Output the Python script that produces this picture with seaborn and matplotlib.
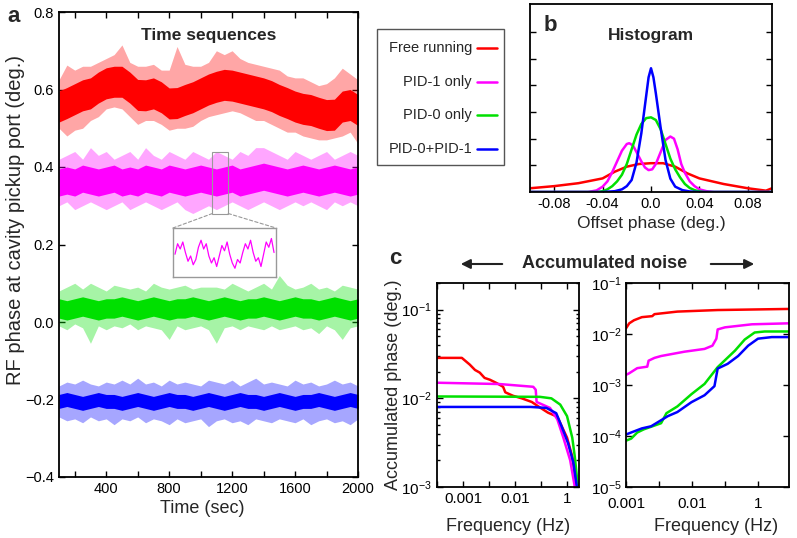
import numpy as np
import matplotlib
matplotlib.use('Agg')
import matplotlib.pyplot as plt
import seaborn as sns
from matplotlib.patches import Rectangle, ConnectionPatch, FancyArrowPatch
from matplotlib.lines import Line2D
from matplotlib.ticker import FixedLocator, NullLocator, LogLocator

# ---------------- data ----------------
t_sec = list(range(100, 2001, 50))

red_mid = [0.556,0.565,0.575,0.585,0.590,0.605,0.616,0.620,0.620,0.605,0.586,0.585,0.590,0.580,0.564,0.565,0.573,0.580,0.590,0.600,
           0.607,0.612,0.610,0.605,0.600,0.595,0.590,0.583,0.573,0.565,0.556,0.550,0.547,0.540,0.534,0.535,0.556,0.560,0.547]
red_hi = [0.625,0.663,0.650,0.660,0.660,0.670,0.680,0.690,0.715,0.670,0.660,0.660,0.665,0.650,0.650,0.711,0.665,0.660,0.660,0.670,
          0.700,0.690,0.700,0.680,0.670,0.665,0.660,0.655,0.650,0.635,0.630,0.630,0.620,0.610,0.615,0.630,0.655,0.640,0.625]
red_lo = [0.500,0.480,0.495,0.500,0.520,0.530,0.550,0.555,0.550,0.530,0.510,0.520,0.520,0.510,0.495,0.500,0.500,0.505,0.520,0.530,
          0.535,0.540,0.545,0.540,0.530,0.520,0.520,0.510,0.500,0.490,0.490,0.480,0.475,0.470,0.470,0.475,0.480,0.490,0.460]

mag_mid = [0.360,0.365,0.360,0.370,0.365,0.360,0.365,0.370,0.360,0.365,0.360,0.370,0.365,0.360,0.370,0.365,0.360,0.365,0.370,0.365,
           0.360,0.365,0.370,0.360,0.365,0.370,0.375,0.370,0.365,0.360,0.365,0.370,0.365,0.360,0.365,0.370,0.365,0.360,0.365]
mag_hi = [0.42,0.43,0.44,0.42,0.45,0.43,0.44,0.42,0.43,0.44,0.42,0.45,0.43,0.42,0.44,0.43,0.42,0.44,0.43,0.42,
          0.44,0.43,0.42,0.44,0.43,0.45,0.45,0.44,0.43,0.42,0.44,0.43,0.42,0.43,0.44,0.42,0.43,0.44,0.43]
mag_lo = [0.30,0.31,0.29,0.30,0.31,0.30,0.29,0.30,0.31,0.29,0.30,0.31,0.30,0.29,0.30,0.31,0.29,0.28,0.29,0.30,
          0.29,0.30,0.31,0.30,0.29,0.30,0.31,0.30,0.29,0.30,0.31,0.30,0.31,0.30,0.29,0.31,0.30,0.31,0.30]

grn_mid = [0.035,0.030,0.035,0.040,0.035,0.030,0.035,0.035,0.040,0.035,0.030,0.035,0.040,0.035,0.030,0.035,0.035,0.040,0.035,0.030,
           0.035,0.040,0.035,0.030,0.035,0.035,0.040,0.035,0.030,0.035,0.040,0.035,0.035,0.030,0.035,0.040,0.035,0.030,0.035]
grn_hi = [0.080,0.090,0.100,0.085,0.100,0.090,0.080,0.095,0.090,0.085,0.090,0.080,0.100,0.090,0.085,0.090,0.095,0.085,0.090,0.090,
          0.090,0.085,0.100,0.090,0.080,0.090,0.100,0.085,0.120,0.095,0.085,0.090,0.100,0.085,0.090,0.080,0.095,0.090,0.085]
grn_lo = [-0.010,-0.020,-0.005,-0.015,-0.055,-0.010,-0.020,-0.010,-0.015,-0.005,-0.020,-0.010,-0.015,-0.020,-0.045,-0.010,-0.020,-0.015,-0.010,-0.020,
          -0.055,-0.015,-0.010,-0.020,-0.010,-0.015,-0.020,-0.010,-0.020,-0.015,-0.010,-0.020,-0.015,-0.030,-0.010,-0.020,-0.045,-0.015,-0.010]

blu_mid = [-0.205,-0.200,-0.205,-0.210,-0.205,-0.200,-0.205,-0.205,-0.210,-0.205,-0.200,-0.205,-0.210,-0.205,-0.200,-0.205,-0.205,-0.210,-0.205,-0.200,
           -0.205,-0.210,-0.205,-0.200,-0.205,-0.205,-0.210,-0.205,-0.200,-0.205,-0.210,-0.205,-0.205,-0.200,-0.205,-0.210,-0.205,-0.200,-0.205]
blu_hi = [-0.165,-0.155,-0.160,-0.150,-0.160,-0.165,-0.155,-0.160,-0.150,-0.160,-0.145,-0.160,-0.155,-0.165,-0.150,-0.160,-0.155,-0.160,-0.165,-0.150,
          -0.155,-0.160,-0.150,-0.165,-0.155,-0.145,-0.160,-0.155,-0.160,-0.165,-0.150,-0.160,-0.155,-0.165,-0.160,-0.150,-0.160,-0.155,-0.165]
blu_lo = [-0.245,-0.255,-0.250,-0.260,-0.245,-0.255,-0.250,-0.265,-0.250,-0.255,-0.245,-0.260,-0.250,-0.255,-0.265,-0.250,-0.260,-0.255,-0.250,-0.270,
          -0.255,-0.250,-0.260,-0.255,-0.265,-0.250,-0.255,-0.260,-0.250,-0.255,-0.260,-0.250,-0.265,-0.255,-0.250,-0.260,-0.255,-0.265,-0.250]

# zoomed piece of the PID-1 trace shown in the inset
ins_val = [0.365,0.395,0.380,0.400,0.370,0.345,0.360,0.335,0.350,0.385,0.405,0.380,0.395,0.360,0.340,0.355,0.330,0.360,0.390,0.375,
           0.400,0.365,0.340,0.325,0.350,0.340,0.370,0.395,0.380,0.405,0.370,0.345,0.355,0.330,0.365,0.400,0.385,0.410,0.370]

# histogram (offset phase in deg, counts in arbitrary units)
h_red_x = [-0.100,-0.080,-0.060,-0.040,-0.030,-0.020,-0.010,0.000,0.010,0.020,0.030,0.040,0.060,0.080,0.095,0.100]
h_red_y = [0.14,0.22,0.33,0.51,0.76,0.95,1.05,1.08,1.08,0.95,0.70,0.51,0.30,0.14,0.05,0.14]
h_mag_x = [-0.100,-0.052,-0.045,-0.040,-0.036,-0.032,-0.028,-0.024,-0.020,-0.018,-0.015,-0.012,-0.008,-0.005,-0.002,0.001,0.004,
           0.008,0.012,0.016,0.019,0.022,0.025,0.028,0.032,0.036,0.040,0.046,0.052,0.100]
h_mag_y = [0.0,0.0,0.06,0.20,0.40,0.75,1.15,1.55,1.80,1.83,1.75,1.50,1.15,0.92,0.82,0.85,1.05,
           1.50,1.95,2.08,2.00,1.60,1.05,0.72,0.40,0.22,0.10,0.03,0.0,0.0]
h_grn_x = [-0.100,-0.044,-0.040,-0.036,-0.032,-0.028,-0.024,-0.020,-0.016,-0.012,-0.008,-0.004,0.000,0.004,0.008,0.012,0.016,
           0.020,0.024,0.028,0.032,0.036,0.040,0.044,0.100]
h_grn_y = [0.0,0.0,0.03,0.10,0.22,0.40,0.65,1.05,1.60,2.15,2.55,2.77,2.80,2.70,2.35,1.80,1.25,
           0.85,0.55,0.30,0.15,0.07,0.02,0.0,0.0]
h_blu_x = [-0.100,-0.040,-0.030,-0.024,-0.020,-0.016,-0.012,-0.008,-0.004,-0.002,0.000,0.002,0.004,0.008,0.012,0.016,0.020,
           0.026,0.032,0.040,0.100]
h_blu_y = [0.0,0.0,0.03,0.10,0.22,0.45,1.10,2.20,3.60,4.30,4.64,4.30,3.70,2.40,1.20,0.50,0.20,
           0.07,0.02,0.0,0.0]

# accumulated noise, integrated from f to the top (left) and from the bottom to f (right)
cl_red_f = [3.2e-4,9.5e-4,1.35e-3,1.7e-3,2.1e-3,2.6e-3,3.3e-3,4.5e-3,5.9e-3,6.5e-3,9.1e-3,0.0135,0.021,0.030,0.043,0.065,0.100,0.126,0.155,0.165]
cl_red_v = [0.0286,0.0286,0.024,0.0209,0.0195,0.017,0.0162,0.0148,0.0135,0.0117,0.0107,0.0100,0.0091,0.0079,0.0069,0.0062,0.0036,0.0022,0.0010,0.0006]
cl_mag_f = [3.2e-4,0.005,0.0224,0.025,0.026,0.047,0.065,0.085,0.115,0.141,0.148]
cl_mag_v = [0.0150,0.0145,0.0135,0.0125,0.0091,0.0078,0.0058,0.0036,0.0020,0.0010,0.0006]
cl_grn_f = [3.2e-4,0.030,0.050,0.074,0.100,0.126,0.141,0.162,0.170]
cl_grn_v = [0.0105,0.0104,0.0100,0.0085,0.0063,0.0036,0.0022,0.0010,0.0006]
cl_blu_f = [3.2e-4,0.020,0.040,0.062,0.079,0.105,0.132,0.155,0.165]
cl_blu_v = [0.0080,0.0080,0.0078,0.0068,0.0048,0.0031,0.0019,0.0010,0.0006]

cr_red_f = [0.001,0.00112,0.00132,0.00174,0.0025,0.0027,0.006,0.0245,0.295]
cr_red_v = [0.0129,0.0162,0.0186,0.0214,0.0224,0.0245,0.0275,0.0295,0.0310]
cr_mag_f = [0.001,0.00112,0.00148,0.0021,0.0022,0.0027,0.0034,0.0077,0.0155,0.0204,0.0234,0.0245,0.0316,0.081,0.295]
cr_mag_v = [0.00158,0.0017,0.00214,0.00229,0.0030,0.0034,0.0037,0.0045,0.0051,0.0059,0.0081,0.0123,0.0135,0.0155,0.0162]
cr_grn_f = [0.001,0.0012,0.00148,0.00186,0.0034,0.0041,0.006,0.0098,0.0155,0.0245,0.0447,0.063,0.089,0.126,0.295]
cr_grn_v = [8.1e-5,8.9e-5,1.17e-4,1.35e-4,1.78e-4,2.8e-4,3.8e-4,6.6e-4,1.05e-3,2.24e-3,4.7e-3,7.8e-3,0.0107,0.0112,0.0112]
cr_blu_f = [0.001,0.00132,0.00174,0.0024,0.0043,0.006,0.0098,0.0155,0.0219,0.0245,0.0347,0.050,0.071,0.100,0.162,0.295]
cr_blu_v = [1.07e-4,1.23e-4,1.41e-4,1.55e-4,2.45e-4,2.95e-4,4.6e-4,6.3e-4,9.5e-4,2.1e-3,2.6e-3,3.7e-3,5.9e-3,8.1e-3,8.7e-3,8.7e-3]

labels = ['Free running', 'PID-1 only', 'PID-0 only', 'PID-0+PID-1']
colors = ['#ff0000', '#ff00ff', '#00e000', '#0000ff']

hist_ticks = [-0.08, -0.04, 0.0, 0.04, 0.08]
hist_ticklabels = ['-0.08', '-0.04', '0.0', '0.04', '0.08']
cl_ticks = [10**-3.5, 1e-3, 10**-2.5, 1e-2, 10**-1.5, 1e-1]
cl_ticklabels = ['', '0.001', '', '0.01', '', '1']
cr_ticks = [1e-3, 10**-2.5, 1e-2, 10**-1.5, 1e-1]
cr_ticklabels = ['0.001', '', '0.01', '', '1']

# ---------------- style ----------------
sns.set_style('ticks')
plt.rcParams['font.family'] = ['Liberation Sans', 'DejaVu Sans']
plt.rcParams['mathtext.fontset'] = 'custom'
plt.rcParams['mathtext.rm'] = 'Liberation Sans'
plt.rcParams['mathtext.default'] = 'regular'
plt.rcParams['axes.linewidth'] = 1.3
plt.rcParams['axes.edgecolor'] = 'black'

W, H = 797, 538
fig = plt.figure(figsize=(W / 100, H / 100), dpi=100)


def rect(x0, y0, x1, y1):
    # pixel box (top-left origin) -> figure fraction
    return [x0 / W, 1 - y1 / H, (x1 - x0) / W, (y1 - y0) / H]


def tick_style(ax, **kw):
    ax.tick_params(which='both', direction='in', width=1, length=4, colors='black', **kw)


# ---------------- panel a ----------------
ax = fig.add_axes(rect(59, 12, 358, 477))
traces = [(red_mid, red_hi, red_lo, 0.040), (mag_mid, mag_hi, mag_lo, 0.035),
          (grn_mid, grn_hi, grn_lo, 0.025), (blu_mid, blu_hi, blu_lo, 0.018)]
for (mid, hi, lo, w), col in zip(traces, colors):
    mid = np.array(mid)
    ax.fill_between(t_sec, lo, hi, color=col, alpha=0.35, lw=0)
    ax.fill_between(t_sec, mid - w, mid + w, color=col, lw=0)
ax.set_xlim(100, 2000)
ax.set_ylim(-0.4, 0.8)
ax.set_xticks([400, 800, 1200, 1600, 2000])
ax.set_xticks([200, 600, 1000, 1400, 1800], minor=True)
ax.set_yticks([-0.4, -0.2, 0.0, 0.2, 0.4, 0.6, 0.8])
tick_style(ax, top=True, right=True, labelsize=10.5)
ax.set_xlabel('Time (sec)', fontsize=13)
ax.xaxis.set_label_coords(0.48, -0.05)
ax.set_ylabel('RF phase at cavity pickup port (deg.)', fontsize=14.5)
ax.yaxis.set_label_coords(-0.113, 0.553)
ax.text(0.5, 0.95, 'Time sequences', transform=ax.transAxes, ha='center', va='center',
        fontsize=12.5, fontweight='bold')
ax.add_patch(Rectangle((1075, 0.28), 100, 0.16, fill=False, ec='#999999', lw=0.8))

axi = fig.add_axes(rect(173, 228, 276, 277))
ins_t = np.linspace(1075, 1175, len(ins_val))
sns.lineplot(x=ins_t, y=ins_val, ax=axi, color=colors[1], lw=0.9, sort=False, estimator=None)
axi.set_xlim(1073, 1177)
axi.set_ylim(0.30, 0.44)
axi.set_xticks([])
axi.set_yticks([])
axi.set_xlabel('')
axi.set_ylabel('')
for s in axi.spines.values():
    s.set_color('#999999')
    s.set_linewidth(1)
for xa, xb in [((1075, 0.28), (0, 1)), ((1175, 0.28), (1, 1))]:
    con = ConnectionPatch(xyA=xa, coordsA=ax.transData, xyB=xb, coordsB=axi.transAxes,
                          color='#999999', lw=0.8, ls=(0, (3, 2)))
    fig.add_artist(con)

fig.text(14 / W, 1 - 17 / H, 'a', fontsize=16, fontweight='bold', ha='center', va='center')

# ---------------- panel b ----------------
axb = fig.add_axes(rect(530, 4, 772, 192))
for hx, hy, col in zip([h_red_x, h_mag_x, h_grn_x, h_blu_x], [h_red_y, h_mag_y, h_grn_y, h_blu_y], colors):
    sns.lineplot(x=hx, y=hy, ax=axb, color=col, lw=1.8, sort=False, estimator=None)
axb.set_xlim(-0.1, 0.1)
axb.set_ylim(0, 7.05)
axb.set_xticks(hist_ticks)
axb.set_xticklabels(hist_ticklabels)
axb.set_yticks([1, 2, 3, 4, 5, 6])
axb.set_yticklabels([])
tick_style(axb, right=True, top=False, labelsize=10.5)
axb.set_xlabel('Offset phase (deg.)', fontsize=12.5)
axb.set_ylabel('')
axb.text(0.5, 0.835, 'Histogram', transform=axb.transAxes, ha='center', va='center',
         fontsize=12.5, fontweight='bold')
axb.text(0.085, 0.885, 'b', transform=axb.transAxes, ha='center', va='center',
         fontsize=16, fontweight='bold')

# legend box, text right-aligned with the line sample after it
fig.add_artist(Rectangle((377 / W, 1 - 165 / H), 127 / W, 136 / H, transform=fig.transFigure,
                         fill=False, ec='#555555', lw=1))
for yy, lab, col in zip([48, 82, 115, 149], labels, colors):
    fig.text(472 / W, 1 - yy / H, lab, ha='right', va='center', fontsize=10.5)
    fig.add_artist(Line2D([477 / W, 497 / W], [1 - yy / H, 1 - yy / H], transform=fig.transFigure,
                          color=col, lw=1.8))

# ---------------- panel c ----------------
axl = fig.add_axes(rect(437, 283, 579, 487))
axr = fig.add_axes(rect(626, 283, 789, 487))
for f, v, col in zip([cl_red_f, cl_mag_f, cl_grn_f, cl_blu_f], [cl_red_v, cl_mag_v, cl_grn_v, cl_blu_v], colors):
    sns.lineplot(x=f, y=v, ax=axl, color=col, lw=1.8, sort=False, estimator=None)
for f, v, col in zip([cr_red_f, cr_mag_f, cr_grn_f, cr_blu_f], [cr_red_v, cr_mag_v, cr_grn_v, cr_blu_v], colors):
    sns.lineplot(x=f, y=v, ax=axr, color=col, lw=1.8, sort=False, estimator=None)

axl.set_xscale('log')
axl.set_yscale('log')
axl.set_xlim(10**-3.5, 10**-0.77)
axl.set_ylim(1e-3, 0.2)
axl.xaxis.set_major_locator(FixedLocator(cl_ticks))
axl.set_xticklabels(cl_ticklabels)
axl.xaxis.set_minor_locator(NullLocator())
axl.yaxis.set_major_locator(LogLocator(base=10, numticks=10))

axr.set_xscale('log')
axr.set_yscale('log')
axr.set_xlim(1e-3, 10**-0.53)
axr.set_ylim(1e-5, 1e-1)
axr.xaxis.set_major_locator(FixedLocator(cr_ticks))
axr.set_xticklabels(cr_ticklabels)
axr.xaxis.set_minor_locator(NullLocator())
axr.yaxis.set_major_locator(LogLocator(base=10, numticks=10))
axr.yaxis.set_minor_locator(NullLocator())

for a in (axl, axr):
    tick_style(a, top=True, right=True, labelsize=11)
    a.tick_params(which='minor', length=2.5)
    a.set_xlabel('Frequency (Hz)', fontsize=13)
    a.set_ylabel('')
axr.tick_params(axis='x', pad=7)
axr.tick_params(axis='y', pad=3)
axl.xaxis.set_label_coords(0.5, -0.15)
axr.xaxis.set_label_coords(0.55, -0.15)
axl.set_ylabel('Accumulated phase (deg.)', fontsize=13)
axl.yaxis.set_label_coords(-0.245, 0.5)

fig.text(605 / W, 1 - 263 / H, 'Accumulated noise', fontsize=13, fontweight='bold', ha='center', va='center')
for xa, xb in [(505, 458), (708, 757)]:
    fig.add_artist(FancyArrowPatch((xa / W, 1 - 264 / H), (xb / W, 1 - 264 / H), transform=fig.transFigure,
                                   arrowstyle='-|>', mutation_scale=14, lw=1.5, color='#222222'))
fig.text(395 / W, 1 - 259 / H, 'c', fontsize=16, fontweight='bold', ha='center', va='center')

fig.savefig('out.png', dpi=100)
